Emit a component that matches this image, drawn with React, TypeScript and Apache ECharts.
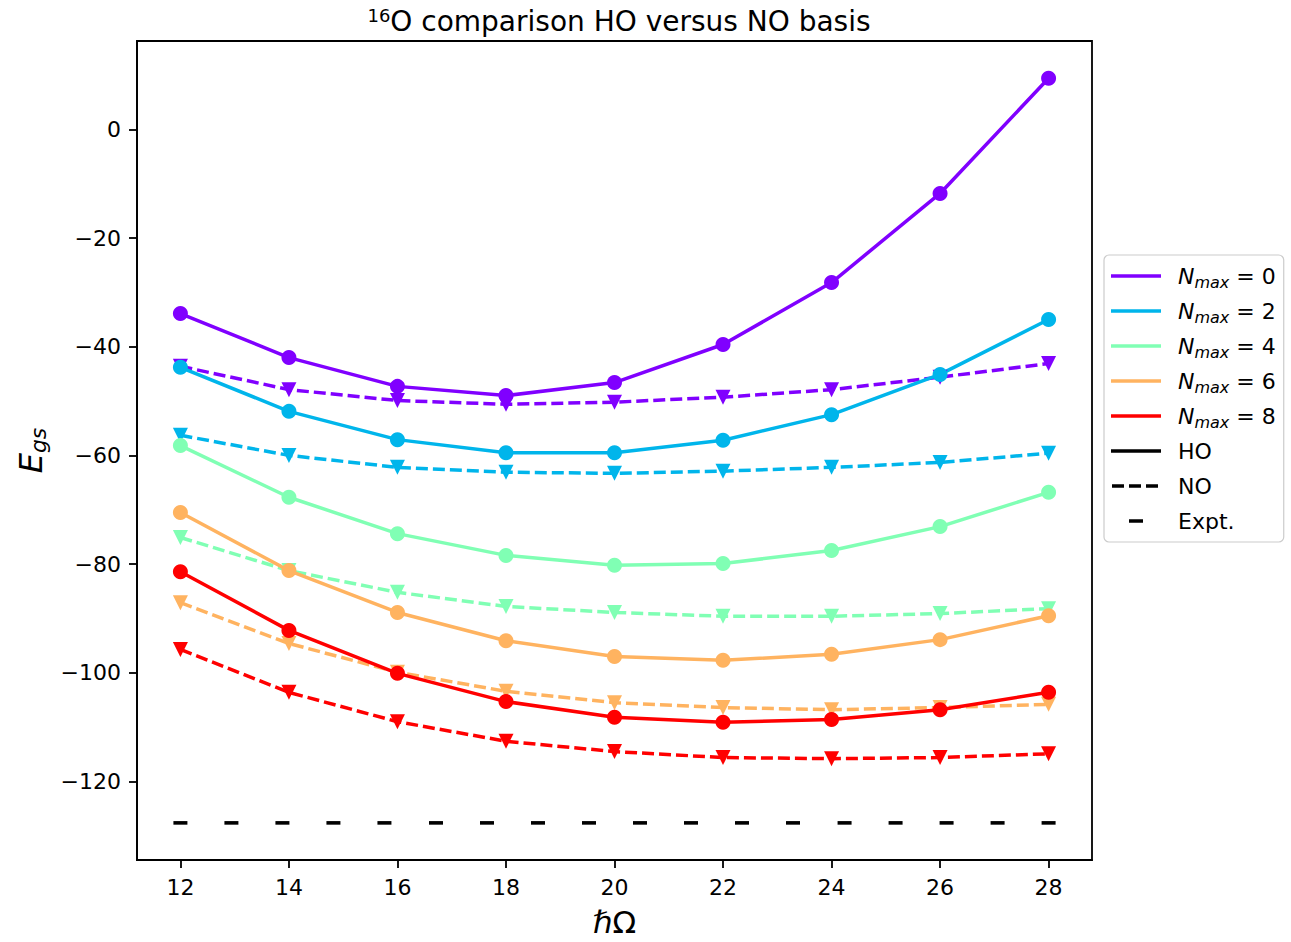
import React, { useEffect, useRef } from 'react';
import * as echarts from 'echarts';

// Oscillator frequency (hbar Omega) grid
const hbarOmega = [12, 14, 16, 18, 20, 22, 24, 26, 28];
const nmaxLevels = [0, 2, 4, 6, 8];
const nmaxColors = ['#8000ff', '#00b5eb', '#80ffb4', '#ffb360', '#ff0000'];

// Ground-state energies in the harmonic-oscillator (HO) basis
const hoNmax0 = [-33.9, -42.0, -47.3, -49.0, -46.6, -39.6, -28.2, -11.8, 9.4];
const hoNmax2 = [-43.8, -51.9, -57.1, -59.5, -59.5, -57.2, -52.5, -45.1, -35.0];
const hoNmax4 = [-58.2, -67.7, -74.4, -78.4, -80.2, -79.9, -77.5, -73.1, -66.8];
const hoNmax6 = [-70.5, -81.2, -88.9, -94.1, -97.0, -97.7, -96.6, -93.9, -89.5];
const hoNmax8 = [-81.4, -92.2, -100.1, -105.3, -108.2, -109.1, -108.6, -106.8, -103.6];

// Ground-state energies in the natural-orbital (NO) basis
const noNmax0 = [-43.6, -47.9, -49.9, -50.6, -50.2, -49.3, -47.9, -45.6, -43.1];
const noNmax2 = [-56.3, -60.0, -62.2, -63.1, -63.3, -62.9, -62.2, -61.3, -59.6];
const noNmax4 = [-75.1, -81.2, -85.2, -87.8, -88.9, -89.6, -89.6, -89.1, -88.2];
const noNmax6 = [-87.1, -94.6, -99.9, -103.4, -105.5, -106.4, -106.8, -106.4, -105.8];
const noNmax8 = [-95.7, -103.6, -109.0, -112.6, -114.5, -115.6, -115.8, -115.6, -114.9];

// Experimental binding energy, marked along the frequency range
const exptOmega = [
  12, 12.94, 13.88, 14.82, 15.76, 16.71, 17.65, 18.59, 19.53,
  20.47, 21.41, 22.35, 23.29, 24.24, 25.18, 26.12, 27.06, 28,
];
const exptEgs = -127.62;

const xTicks = [12, 14, 16, 18, 20, 22, 24, 26, 28];
const yTicks = [-120, -100, -80, -60, -40, -20, 0];

const hoSeries = [hoNmax0, hoNmax2, hoNmax4, hoNmax6, hoNmax8];
const noSeries = [noNmax0, noNmax2, noNmax4, noNmax6, noNmax8];

const FONT = 'DejaVu Sans';
const X_MIN = 11.2;
const X_MAX = 28.8;
const Y_MIN = -134.45;
const Y_MAX = 16.25;

const LINE_ICON = 'path://M0,0M62,14M0,5.25h50v3.5h-50z';
const DASH_ICON =
  'path://M0,0M62,14M1,5.25h12v3.5h-12zM18,5.25h12v3.5h-12zM35,5.25h12v3.5h-12z';
const EXPT_ICON = 'path://M0,0M62,14M18,5.25h14v3.5h-14z';

const nmaxName = (n: number) => `Nmax = ${n}`;

function buildOption() {
  const series: any[] = [];
  nmaxLevels.forEach((n, i) => {
    const color = nmaxColors[i];
    series.push({
      name: nmaxName(n),
      type: 'line',
      data: hbarOmega.map((x, j) => [x, hoSeries[i][j]]),
      symbol: 'circle',
      symbolSize: 15,
      showSymbol: true,
      lineStyle: { color, width: 3.5 },
      itemStyle: { color, opacity: 1 },
      emphasis: { disabled: true },
    });
    series.push({
      name: `NO ${nmaxName(n)}`,
      type: 'line',
      data: hbarOmega.map((x, j) => [x, noSeries[i][j]]),
      symbol: 'triangle',
      symbolRotate: 180,
      symbolSize: 15,
      showSymbol: true,
      lineStyle: { color, width: 3.5, type: [12, 5] },
      itemStyle: { color, opacity: 1 },
      emphasis: { disabled: true },
    });
  });
  // Style-only entries for the legend
  series.push({ name: 'HO', type: 'line', data: [], itemStyle: { color: '#000' } });
  series.push({ name: 'NO', type: 'line', data: [], itemStyle: { color: '#000' } });
  series.push({
    name: 'Expt.',
    type: 'scatter',
    data: exptOmega.map((x) => [x, exptEgs]),
    symbol: 'rect',
    symbolSize: [14, 3.6],
    itemStyle: { color: '#000', opacity: 1 },
    emphasis: { disabled: true },
  });

  const legendData: any[] = nmaxLevels.map((n, i) => ({
    name: nmaxName(n),
    icon: LINE_ICON,
    itemStyle: { color: nmaxColors[i], borderWidth: 0, opacity: 1 },
  }));
  legendData.push({ name: 'HO', icon: LINE_ICON, itemStyle: { color: '#000', borderWidth: 0, opacity: 1 } });
  legendData.push({ name: 'NO', icon: DASH_ICON, itemStyle: { color: '#000', borderWidth: 0, opacity: 1 } });
  legendData.push({ name: 'Expt.', icon: EXPT_ICON, itemStyle: { color: '#000', borderWidth: 0, opacity: 1 } });

  const tickFmt = (v: number) => (v < 0 ? '\u2212' + Math.abs(v) : String(v));

  return {
    animation: false,
    backgroundColor: '#ffffff',
    title: {
      text: '{sup|16}{main|O comparison HO versus NO basis}',
      left: 614,
      top: 1,
      textAlign: 'center',
      textStyle: {
        fontWeight: 'normal',
        rich: {
          sup: {
            fontFamily: FONT,
            fontSize: 18,
            fontWeight: 'normal',
            color: '#000',
            padding: [0, 0, 12, 0],
          },
          main: { fontFamily: FONT, fontSize: 28, fontWeight: 'normal', color: '#000' },
        },
      },
    },
    grid: {
      left: 137,
      top: 41,
      width: 955,
      height: 819,
      show: true,
      borderColor: '#000',
      borderWidth: 1.8,
      backgroundColor: 'transparent',
      containLabel: false,
      outerBoundsMode: 'none',
    },
    legend: {
      orient: 'vertical',
      left: 1104,
      top: 255,
      padding: [7, 8, 7, 7],
      itemGap: 7,
      itemWidth: 62,
      itemHeight: 14,
      selectedMode: false,
      backgroundColor: 'rgba(255,255,255,0.8)',
      borderColor: '#cccccc',
      borderWidth: 1.2,
      borderRadius: 5,
      data: legendData,
      formatter: (name: string) => {
        const m = /^Nmax = (\d+)$/.exec(name);
        if (m) return `{n|N}{s|max}{t| = ${m[1]}}`;
        return `{t|${name}}`;
      },
      textStyle: {
        fontFamily: FONT,
        fontSize: 22,
        color: '#000',
        lineHeight: 28,
        rich: {
          n: { fontFamily: FONT, fontSize: 22, fontStyle: 'italic', color: '#000', lineHeight: 28 },
          s: {
            fontFamily: FONT,
            fontSize: 16,
            fontStyle: 'italic',
            color: '#000',
            lineHeight: 28,
            padding: [12, 0, 0, 0],
          },
          t: { fontFamily: FONT, fontSize: 22, color: '#000', lineHeight: 28 },
        },
      },
    },
    xAxis: {
      type: 'value',
      min: X_MIN,
      max: X_MAX,
      name: '{h|\u210F}{o|\u03A9}',
      nameLocation: 'middle',
      nameGap: 46,
      nameTextStyle: {
        rich: {
          h: { fontFamily: FONT, fontSize: 31, fontStyle: 'italic', color: '#000' },
          o: { fontFamily: FONT, fontSize: 31, color: '#000' },
        },
      },
      axisLine: { show: true, onZero: false, lineStyle: { color: '#000', width: 1.8 } },
      splitLine: { show: false },
      axisTick: {
        show: true,
        inside: false,
        length: 8,
        customValues: xTicks,
        lineStyle: { color: '#000', width: 1.8 },
      },
      axisLabel: {
        customValues: xTicks,
        margin: 16,
        color: '#000',
        fontFamily: FONT,
        fontSize: 22,
        formatter: tickFmt,
      },
    },
    yAxis: {
      type: 'value',
      min: Y_MIN,
      max: Y_MAX,
      name: '{e|E}{s|gs}',
      nameLocation: 'middle',
      nameRotate: 90,
      nameGap: 80,
      nameTextStyle: {
        rich: {
          e: { fontFamily: FONT, fontSize: 32, fontStyle: 'italic', color: '#000', lineHeight: 38 },
          s: {
            fontFamily: FONT,
            fontSize: 22,
            fontStyle: 'italic',
            color: '#000',
            lineHeight: 38,
            padding: [16, 0, 0, 0],
          },
        },
      },
      axisLine: { show: true, onZero: false, lineStyle: { color: '#000', width: 1.8 } },
      splitLine: { show: false },
      axisTick: {
        show: true,
        inside: false,
        length: 8,
        customValues: yTicks,
        lineStyle: { color: '#000', width: 1.8 },
      },
      axisLabel: {
        customValues: yTicks,
        margin: 16,
        color: '#000',
        fontFamily: FONT,
        fontSize: 22,
        formatter: tickFmt,
      },
    },
    series,
  };
}

export default function App() {
  const ref = useRef<HTMLDivElement>(null);
  useEffect(() => {
    if (!ref.current) return;
    const chart = echarts.init(ref.current, null, { renderer: 'svg' });
    chart.setOption(buildOption() as any);
    return () => chart.dispose();
  }, []);
  return (
    <div
      ref={ref}
      style={{ position: 'fixed', left: 0, top: 0, width: 1291, height: 942, background: '#fff' }}
    />
  );
}
